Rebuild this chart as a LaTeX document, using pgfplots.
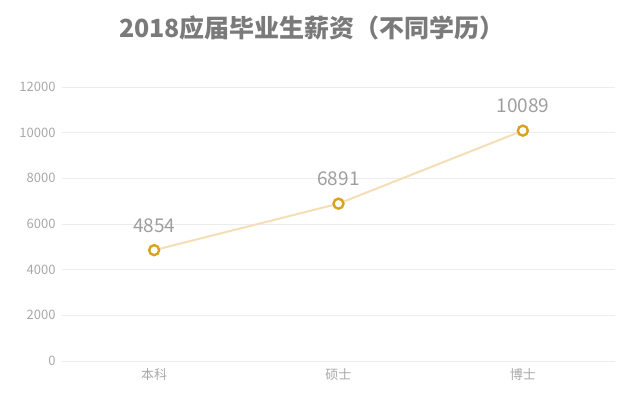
\documentclass[border=0pt]{standalone}
\usepackage{pgfplots}
\pgfplotsset{compat=1.18}
\usepackage{fontspec}
\setmainfont{Noto Sans CJK SC}
\definecolor{titlegray}{HTML}{7A7A7A}
\definecolor{tickgray}{HTML}{A8A8A8}
\definecolor{labelgray}{HTML}{9E9E9E}
\definecolor{gridgray}{HTML}{ECECEC}
\definecolor{linebeige}{HTML}{F5DDB5}
\definecolor{gold}{HTML}{D9A21E}
\begin{document}
\begin{tikzpicture}
\begin{axis}[name=ax,
  scale only axis, width=553pt, height=274pt,
  xmin=-0.5, xmax=2.5, ymin=0, ymax=12000,
  xtick={0,1,2}, xticklabels={本科,硕士,博士},
  ytick={0,2000,...,12000},
  axis line style={draw=none}, tick style={draw=none},
  ymajorgrids, grid style={gridgray, line width=0.8pt},
  /pgf/number format/assume math mode=true,
  scaled y ticks=false, yticklabel style={/pgf/number format/1000 sep={}},
  ticklabel style={font=\fontsize{13}{15}\selectfont, text=tickgray},
  xticklabel style={yshift=-4pt},
  yticklabel style={xshift=-3pt},
  clip=false]
\addplot[linebeige, line width=2pt, mark=*, mark size=5pt,
  mark options={draw=gold, fill=white, line width=2.4pt},
  nodes near coords, nodes near coords style={font=\fontsize{19}{22}\selectfont, text=labelgray, anchor=south, yshift=13pt, /pgf/number format/1000 sep={}}]
  coordinates {(0,4854) (1,6891) (2,10089)};
\end{axis}
\node[font=\bfseries\fontsize{25}{28}\selectfont, text=titlegray] at ([shift={(250pt,333pt)}]ax.south west) {2018应届毕业生薪资（不同学历）};
\path[use as bounding box] ([shift={(-62pt,-39pt)}]ax.south west) rectangle ++(633pt,400pt);
\end{tikzpicture}
\end{document}
